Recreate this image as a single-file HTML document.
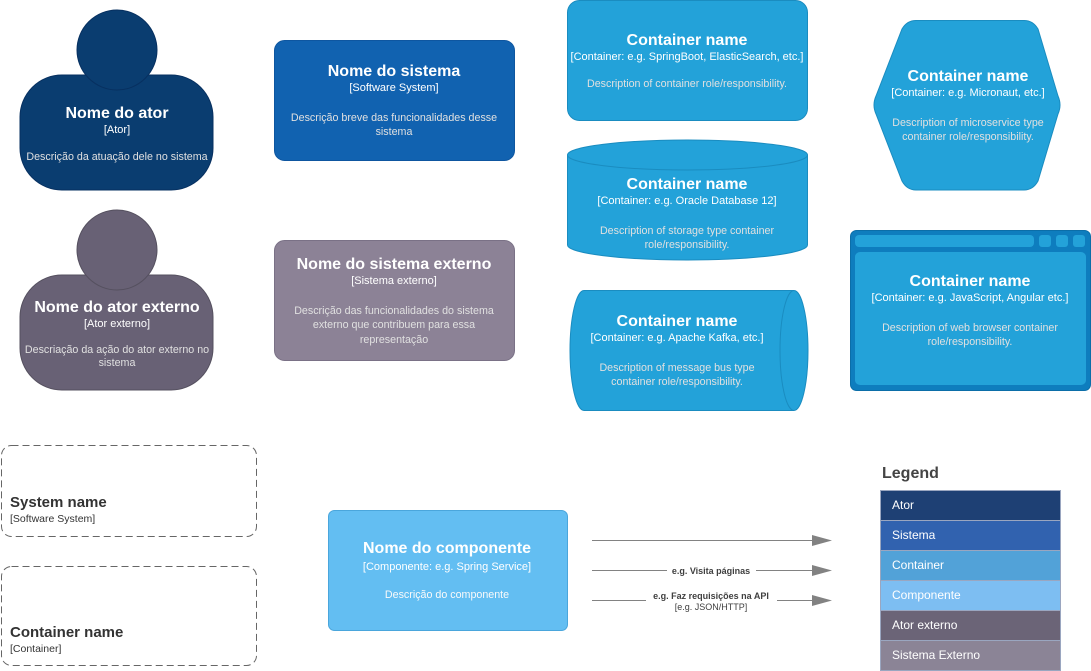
<!DOCTYPE html>
<html><head><meta charset="utf-8"><style>
html,body{margin:0;padding:0;background:#fff;width:1091px;height:671px;overflow:hidden}
svg{display:block;font-family:"Liberation Sans",Arial,sans-serif}
.t{font-weight:bold;font-size:16px;fill:#fff;text-anchor:middle}
.s{font-size:11px;fill:#fff;text-anchor:middle}
.d{font-size:10.7px;fill:#e0e0e0;text-anchor:middle}
.lg{font-size:12px;fill:#fff}
</style></head><body>
<svg width="1091" height="671" viewBox="0 0 1091 671">
<g>
<rect x="20" y="75" width="193" height="115" rx="42" fill="#0a3d70" stroke="#073060"/>
<circle cx="117" cy="50" r="40" fill="#0a3d70" stroke="#073060"/>
<text class="t" x="117" y="118">Nome do ator</text>
<text class="s" x="117" y="133">[Ator]</text>
<text class="d" x="117" y="160">Descrição da atuação dele no sistema</text>
</g>
<g>
<rect x="20" y="275" width="193" height="115" rx="42" fill="#686175" stroke="#55505f"/>
<circle cx="117" cy="250" r="40" fill="#686175" stroke="#55505f"/>
<text class="t" x="117" y="312">Nome do ator externo</text>
<text class="s" x="117" y="327">[Ator externo]</text>
<text class="d" x="117" y="353">Descriação da ação do ator externo no</text>
<text class="d" x="117" y="366">sistema</text>
</g>
<g>
<rect x="274.5" y="40.5" width="240" height="120" rx="10" fill="#1162b0" stroke="#0e56a0"/>
<text class="t" x="394" y="76">Nome do sistema</text>
<text class="s" x="394" y="91">[Software System]</text>
<text class="d" x="394" y="121">Descrição breve das funcionalidades desse</text>
<text class="d" x="394" y="135">sistema</text>
</g>
<g>
<rect x="274.5" y="240.5" width="240" height="120" rx="10" fill="#8c8296" stroke="#7a7186"/>
<text class="t" x="394" y="269">Nome do sistema externo</text>
<text class="s" x="394" y="284">[Sistema externo]</text>
<text class="d" x="394" y="314">Descrição das funcionalidades do sistema</text>
<text class="d" x="394" y="328">externo que contribuem para essa</text>
<text class="d" x="394" y="343">representação</text>
</g>
<g>
<rect x="567.5" y="0.5" width="240" height="120" rx="12" fill="#23a2d9" stroke="#1a8cc0"/>
<text class="t" x="687" y="45">Container name</text>
<text class="s" x="687" y="60">[Container: e.g. SpringBoot, ElasticSearch, etc.]</text>
<text class="d" x="687" y="87">Description of container role/responsibility.</text>
</g>
<g>
<path d="M567.5,155 A120,15 0 0 1 807.5,155 L807.5,245 A120,15 0 0 1 567.5,245 Z" fill="#23a2d9" stroke="#1a8cc0"/>
<path d="M567.5,155 A120,15 0 0 0 807.5,155" fill="none" stroke="#1a8cc0"/>
<text class="t" x="687" y="189">Container name</text>
<text class="s" x="687" y="204">[Container: e.g. Oracle Database 12]</text>
<text class="d" x="687" y="234">Description of storage type container</text>
<text class="d" x="687" y="248">role/responsibility.</text>
</g>
<g>
<path d="M584,290.5 L794,290.5 A14,60 0 0 1 794,410.5 L584,410.5 A14,60 0 0 1 584,290.5 Z" fill="#23a2d9" stroke="#1a8cc0"/>
<path d="M794,290.5 A14,60 0 0 0 794,410.5" fill="none" stroke="#1a8cc0"/>
<text class="t" x="677" y="326">Container name</text>
<text class="s" x="677" y="341">[Container: e.g. Apache Kafka, etc.]</text>
<text class="d" x="677" y="371">Description of message bus type</text>
<text class="d" x="677" y="385">container role/responsibility.</text>
</g>
<g>
<path d="M916,20.5 L1024,20.5 Q1033,20.5 1038,29 L1058,96 Q1062,105 1058,114 L1038,181 Q1033,190 1024,190 L916,190 Q907,190 902,181 L876,114 Q872,105 876,96 L902,29 Q907,20.5 916,20.5 Z" fill="#23a2d9" stroke="#1a8cc0"/>
<text class="t" x="968" y="81">Container name</text>
<text class="s" x="968" y="96">[Container: e.g. Micronaut, etc.]</text>
<text class="d" x="968" y="126">Description of microservice type</text>
<text class="d" x="968" y="140">container role/responsibility.</text>
</g>
<g>
<rect x="850.5" y="230.5" width="240" height="160" rx="6" fill="#0e7dbe" stroke="#0b6ea8"/>
<rect x="855" y="235" width="179" height="12" rx="4" fill="#23a2d9"/>
<rect x="1039" y="235" width="12" height="12" rx="3" fill="#23a2d9"/>
<rect x="1056" y="235" width="12" height="12" rx="3" fill="#23a2d9"/>
<rect x="1073" y="235" width="12" height="12" rx="3" fill="#23a2d9"/>
<rect x="855" y="252" width="231" height="133" rx="5" fill="#23a2d9"/>
<text class="t" x="970" y="286">Container name</text>
<text class="s" x="970" y="301">[Container: e.g. JavaScript, Angular etc.]</text>
<text class="d" x="970" y="331">Description of web browser container</text>
<text class="d" x="970" y="345">role/responsibility.</text>
</g>
<g>
<rect x="1.5" y="445.5" width="255" height="91" rx="10" fill="none" stroke="#666" stroke-dasharray="7,4"/>
<text x="10" y="507" font-size="15" font-weight="bold" fill="#333">System name</text>
<text x="10" y="522" font-size="10.5" fill="#333">[Software System]</text>
</g>
<g>
<rect x="1.5" y="566.5" width="255" height="99" rx="10" fill="none" stroke="#666" stroke-dasharray="7,4"/>
<text x="10" y="637" font-size="15" font-weight="bold" fill="#333">Container name</text>
<text x="10" y="652" font-size="10.5" fill="#333">[Container]</text>
</g>
<g>
<rect x="328.5" y="510.5" width="239" height="120" rx="6" fill="#63bef2" stroke="#4aa6dc"/>
<text class="t" x="447" y="553">Nome do componente</text>
<text class="s" x="447" y="570">[Componente: e.g. Spring Service]</text>
<text x="447" y="598" font-size="10.7" fill="#fafafa" text-anchor="middle">Descrição do componente</text>
</g>
<g>
<line x1="592" y1="540.5" x2="814" y2="540.5" stroke="#828282"/>
<path d="M812,535 L832,540.5 L812,546 Z" fill="#828282"/>
</g>
<g>
<line x1="592" y1="570.5" x2="814" y2="570.5" stroke="#828282"/>
<path d="M812,565 L832,570.5 L812,576 Z" fill="#828282"/>
<rect x="667" y="566" width="89" height="10" fill="#fff"/>
<text x="711" y="574" font-size="9" font-weight="bold" fill="#404040" text-anchor="middle">e.g. Visita páginas</text>
</g>
<g>
<line x1="592" y1="600.5" x2="814" y2="600.5" stroke="#828282"/>
<path d="M812,595 L832,600.5 L812,606 Z" fill="#828282"/>
<rect x="646" y="592" width="131" height="10" fill="#fff"/>
<text x="711" y="599" font-size="9" font-weight="bold" fill="#404040" text-anchor="middle">e.g. Faz requisições na API</text>
<text x="711" y="610" font-size="9" fill="#404040" text-anchor="middle">[e.g. JSON/HTTP]</text>
</g>
<text x="882" y="478" font-size="16" font-weight="bold" fill="#444">Legend</text>
<g stroke="#9aa6c0">
<rect x="880.5" y="490.5" width="180" height="30" fill="#1e4074"/>
<rect x="880.5" y="520.5" width="180" height="30" fill="#3162af"/>
<rect x="880.5" y="550.5" width="180" height="30" fill="#52a2d8"/>
<rect x="880.5" y="580.5" width="180" height="30" fill="#7dbef2"/>
<rect x="880.5" y="610.5" width="180" height="30" fill="#6b6477"/>
<rect x="880.5" y="640.5" width="180" height="30" fill="#8b8496"/>
</g>
<text class="lg" x="892" y="509">Ator</text>
<text class="lg" x="892" y="539">Sistema</text>
<text class="lg" x="892" y="569">Container</text>
<text class="lg" x="892" y="599">Componente</text>
<text class="lg" x="892" y="629">Ator externo</text>
<text class="lg" x="892" y="659">Sistema Externo</text>
</svg>
</body></html>
